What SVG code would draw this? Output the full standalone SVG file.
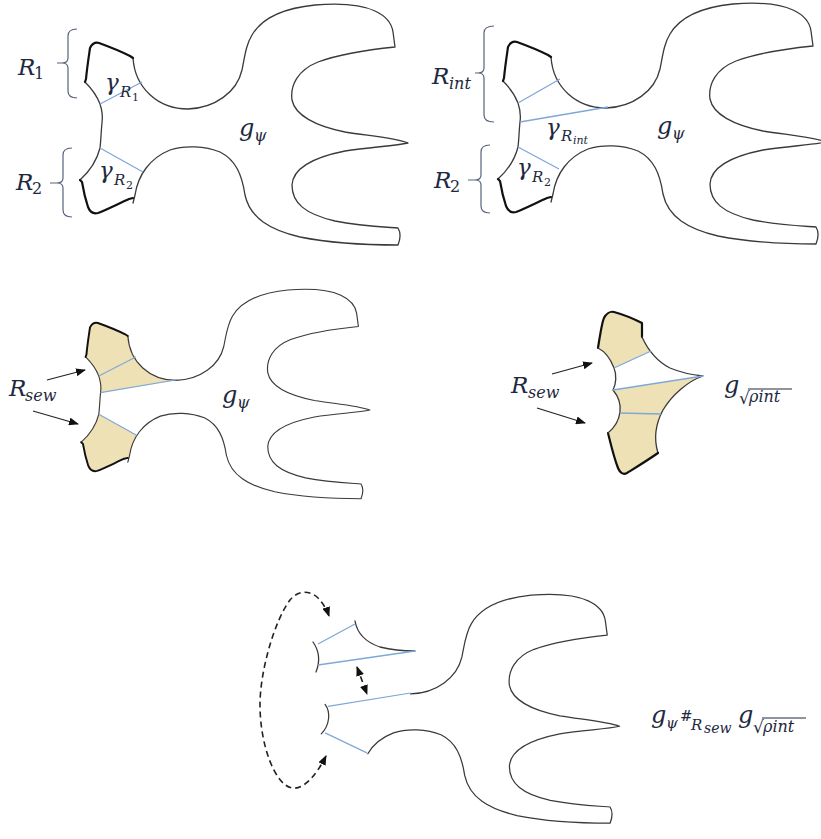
<svg xmlns="http://www.w3.org/2000/svg" xmlns:xlink="http://www.w3.org/1999/xlink" width="821" height="839" viewBox="0 0 821 839">
<style>
.ln{fill:none;stroke:#3a3a3a;stroke-width:1.3;stroke-linejoin:round;stroke-linecap:round}
.tk{fill:none;stroke:#111;stroke-width:2.2;stroke-linejoin:round;stroke-linecap:round}
.bl{fill:none;stroke:#7ea8d8;stroke-width:1.3}
.fl{fill:#eee1b5;stroke:none}
.br{fill:none;stroke:#56627a;stroke-width:1.2}
.ar{fill:none;stroke:#222;stroke-width:1.2}
.da{fill:none;stroke:#222;stroke-width:1.6;stroke-dasharray:6 4}
.t{font-family:"DejaVu Serif","Liberation Serif",serif;font-style:italic;fill:#1e2940}
.up{font-style:normal}
</style>
<defs>
<marker id="ah" viewBox="0 0 10 8" refX="9" refY="4" markerWidth="10" markerHeight="8" markerUnits="userSpaceOnUse" orient="auto-start-reverse"><path d="M0,0 L10,4 L0,8 z" fill="#111"/></marker>
<path id="outline" d="M133,58 C135,88 158,109 188,109 C215,108 237,92 242,70 C245,55 246,45 252,35 C262,18 285,8 315,5 C340,3 360,4 375,11 C388,17 392,25 393,32 L395,47 C375,49 340,54 318,62 C298,70 290,85 292,100 C295,115 315,126 345,132 C370,136 395,138 408,143 C395,146 370,147 345,151 C315,157 293,168 292,185 C292,203 305,214 335,221 C360,226 385,227 398,228 C401,233 400,240 398,245 C370,245 330,243 300,237 C270,230 250,218 245,195 C242,175 236,160 220,152 C205,146 185,145 170,150 C150,158 138,175 135,195 L133,203"/>
<path id="body" d="M188,109 C215,108 237,92 242,70 C245,55 246,45 252,35 C262,18 285,8 315,5 C340,3 360,4 375,11 C388,17 392,25 393,32 L395,47 C375,49 340,54 318,62 C298,70 290,85 292,100 C295,115 315,126 345,132 C370,136 395,138 408,143 C395,146 370,147 345,151 C315,157 293,168 292,185 C292,203 305,214 335,221 C360,226 385,227 398,228 C401,233 400,240 398,245 C370,245 330,243 300,237 C270,230 250,218 245,195 C242,175 236,160 220,152 C205,146 185,145 170,150 C157,155 148,163 143,172"/>
<path id="thickTop" d="M85,82 L86,79 C87,68 89,55 90,48 C92,44 95,42 99,43 C110,47 122,52 130,56 L133,58"/>
<path id="thickBot" d="M133,198 L129,199 C118,204 104,211 98,213 C94,214 90,212 88,207 C85,198 83,188 82,182 L80,180"/>
<path id="leftArc" d="M85,82 C92,89 97,96 100,104 C102,110 103,116 102,123 C101,132 101,140 100,148 C97,160 90,171 80,180"/>
</defs>

<g id="node-top-left">
<use xlink:href="#outline" class="ln"/>
<use xlink:href="#leftArc" class="ln"/>
<use xlink:href="#thickTop" class="tk"/>
<use xlink:href="#thickBot" class="tk"/>
<line class="bl" x1="100" y1="104" x2="142" y2="82"/>
<line class="bl" x1="100" y1="148" x2="143" y2="172"/>
<path class="br" d="M77,29 Q68,29 68,36 L68,58 Q68,63 62,63 L57,63 M62,63 Q68,63 68,68 L68,91 Q68,98 77,98"/>
<path class="br" d="M72,148 Q63,148 63,155 L63,178 Q63,183 57,183 L50,183 M57,183 Q63,183 63,188 L63,210 Q63,217 72,217"/>
<text class="t" font-size="23"><tspan x="18" y="75">R</tspan><tspan class="up" x="34" y="79" font-size="16">1</tspan></text>
<text class="t" font-size="23"><tspan x="16" y="190">R</tspan><tspan class="up" x="32" y="194" font-size="16">2</tspan></text>
<text class="t" font-size="23"><tspan x="105" y="90">γ</tspan><tspan x="120" y="97" font-size="15">R</tspan><tspan class="up" x="132" y="101" font-size="11">1</tspan></text>
<text class="t" font-size="23"><tspan x="99" y="178">γ</tspan><tspan x="114" y="185" font-size="15">R</tspan><tspan class="up" x="126" y="189" font-size="11">2</tspan></text>
<text class="t" font-size="24"><tspan x="239" y="136">g</tspan><tspan x="254" y="141" font-size="16">ψ</tspan></text>
</g>

<g id="node-top-right">
<g transform="translate(418,-1)">
<use xlink:href="#outline" class="ln"/>
<use xlink:href="#leftArc" class="ln"/>
<use xlink:href="#thickTop" class="tk"/>
<use xlink:href="#thickBot" class="tk"/>
<line class="bl" x1="100" y1="104" x2="142" y2="80"/>
<line class="bl" x1="102" y1="123" x2="190" y2="108"/>
<line class="bl" x1="100" y1="148" x2="141" y2="170"/>
</g>
<path class="br" d="M494,26 Q484,26 484,33 L484,68 Q484,73 478,73 L475,73 M478,73 Q484,73 484,78 L484,115 Q484,122 494,122"/>
<path class="br" d="M490,145 Q481,145 481,152 L481,175 Q481,180 475,180 L468,180 M475,180 Q481,180 481,185 L481,206 Q481,213 490,213"/>
<text class="t" font-size="23"><tspan x="432" y="84">R</tspan><tspan x="449" y="89" font-size="16">int</tspan></text>
<text class="t" font-size="23"><tspan x="434" y="188">R</tspan><tspan class="up" x="450" y="192" font-size="16">2</tspan></text>
<text class="t" font-size="23"><tspan x="546" y="135">γ</tspan><tspan x="561" y="141" font-size="15">R</tspan><tspan x="573" y="144" font-size="11">int</tspan></text>
<text class="t" font-size="23"><tspan x="517" y="175">γ</tspan><tspan x="532" y="182" font-size="15">R</tspan><tspan class="up" x="544" y="186" font-size="11">2</tspan></text>
<text class="t" font-size="24"><tspan x="657" y="134">g</tspan><tspan x="672" y="139" font-size="16">ψ</tspan></text>
</g>

<g id="node-mid-left">
<g transform="translate(10.8,285.6) scale(0.88,0.87)">
<path class="fl" d="M85,82 L86,79 C87,68 89,55 90,48 C92,44 95,42 99,43 C110,47 122,52 130,56 L133,58 C135,88 158,109 188,109 L102,123 C103,116 102,110 100,104 C97,96 92,89 85,82 Z"/>
<path class="fl" d="M100,148 L143,172 C139,180 136,188 135,195 L133,198 L129,199 C118,204 104,211 98,213 C94,214 90,212 88,207 C85,198 83,188 82,182 L80,180 C90,171 97,160 100,148 Z"/>
<use xlink:href="#outline" class="ln"/>
<use xlink:href="#leftArc" class="ln"/>
<use xlink:href="#thickTop" class="tk"/>
<use xlink:href="#thickBot" class="tk"/>
<line class="bl" x1="100" y1="104" x2="142" y2="82"/>
<line class="bl" x1="102" y1="123" x2="190" y2="108"/>
<line class="bl" x1="100" y1="148" x2="143" y2="172"/>
</g>
<text class="t" font-size="23"><tspan x="9" y="396">R</tspan><tspan x="25" y="401" font-size="16">sew</tspan></text>
<text class="t" font-size="24"><tspan x="222" y="403">g</tspan><tspan x="237" y="408" font-size="16">ψ</tspan></text>
</g>

<g id="node-mid-right">
<path class="fl" d="M598,348 C600,335 602,322 604,318 C606,314 610,311 614,312 C625,315 636,320 642,323 L642,337 C645,344 648,348 651,351 L614,368 C611,360 606,352 598,348 Z"/>
<path class="fl" d="M613,390 L703,376 C688,381 672,395 663,410 C655,425 654,440 658,453 C648,460 635,468 627,473 C623,475 620,473 618,468 C614,458 611,445 608,433 C614,428 619,420 620,412 C621,404 618,396 613,390 Z"/>
<path class="tk" d="M598,348 C600,335 602,322 604,318 C606,314 610,311 614,312 C625,315 636,320 642,323 L642,337"/>
<path class="ln" d="M642,337 C648,350 658,362 670,368 C682,373 693,375 703,376 C688,381 672,395 663,410 C655,425 654,440 658,453"/>
<path class="tk" d="M658,453 C648,460 635,468 627,473 C623,475 620,473 618,468 C614,458 611,445 608,433"/>
<path class="ln" d="M608,433 C614,428 619,420 620,412 C621,404 618,396 613,390 C616,384 617,375 614,368 C611,360 606,352 598,348"/>
<line class="bl" x1="614" y1="368" x2="651" y2="351"/>
<line class="bl" x1="613" y1="390" x2="703" y2="376"/>
<line class="bl" x1="620" y1="413" x2="661" y2="414"/>
<text class="t" font-size="23"><tspan x="511" y="393">R</tspan><tspan x="528" y="398" font-size="16">sew</tspan></text>
<text class="t" font-size="24"><tspan x="724" y="393">g</tspan><tspan class="up" x="739" y="404" font-size="17">√</tspan><tspan x="749" y="402" font-size="16">ρint</tspan></text>
<line x1="748" y1="389" x2="792" y2="389" stroke="#1e2940" stroke-width="1"/>
</g>

<g id="node-bottom">
<g transform="translate(232,590.4) scale(0.95)">
<use xlink:href="#body" class="ln"/>
<path class="ln" d="M98,120 C104,128 103,142 94,151"/>
<line class="bl" x1="101" y1="122" x2="188" y2="108"/>
<line class="bl" x1="98" y1="150" x2="142" y2="171"/>
</g>
<path class="ln" d="M313,642 C320,652 320,662 316,672"/>
<path class="ln" d="M355,621 C357,632 365,642 380,647 C392,650 405,651 415,651"/>
<line class="bl" x1="318" y1="644" x2="355" y2="624"/>
<line class="bl" x1="318" y1="665" x2="415" y2="651"/>
<text class="t" font-size="24"><tspan x="651" y="723">g</tspan><tspan x="666" y="728" font-size="15">ψ</tspan><tspan class="up" x="680" y="721" font-size="15">#</tspan><tspan x="691" y="730" font-size="15">R</tspan><tspan x="704" y="733" font-size="14">sew</tspan><tspan x="738" y="723">g</tspan><tspan class="up" x="753" y="733" font-size="17">√</tspan><tspan x="763" y="732" font-size="16">ρint</tspan></text>
<line x1="762" y1="718" x2="806" y2="718" stroke="#1e2940" stroke-width="1"/>
</g>

<g id="connectors">
<line class="ar" x1="47" y1="380" x2="85" y2="370" marker-end="url(#ah)"/>
<line class="ar" x1="33" y1="411" x2="78" y2="424" marker-end="url(#ah)"/>
<line class="ar" x1="552" y1="374" x2="592" y2="363" marker-end="url(#ah)"/>
<line class="ar" x1="537" y1="408" x2="585" y2="423" marker-end="url(#ah)"/>
<path class="da" d="M326,756 C318,772 305,790 292,788 C275,785 260,745 260,705 C260,670 275,620 290,600 C298,590 310,590 318,598 C323,603 327,610 329,616" marker-start="url(#ah)" marker-end="url(#ah)"/>
<line class="da" x1="357" y1="667" x2="367" y2="694" stroke-dasharray="3 3" marker-start="url(#ah)" marker-end="url(#ah)"/>
</g>
</svg>
